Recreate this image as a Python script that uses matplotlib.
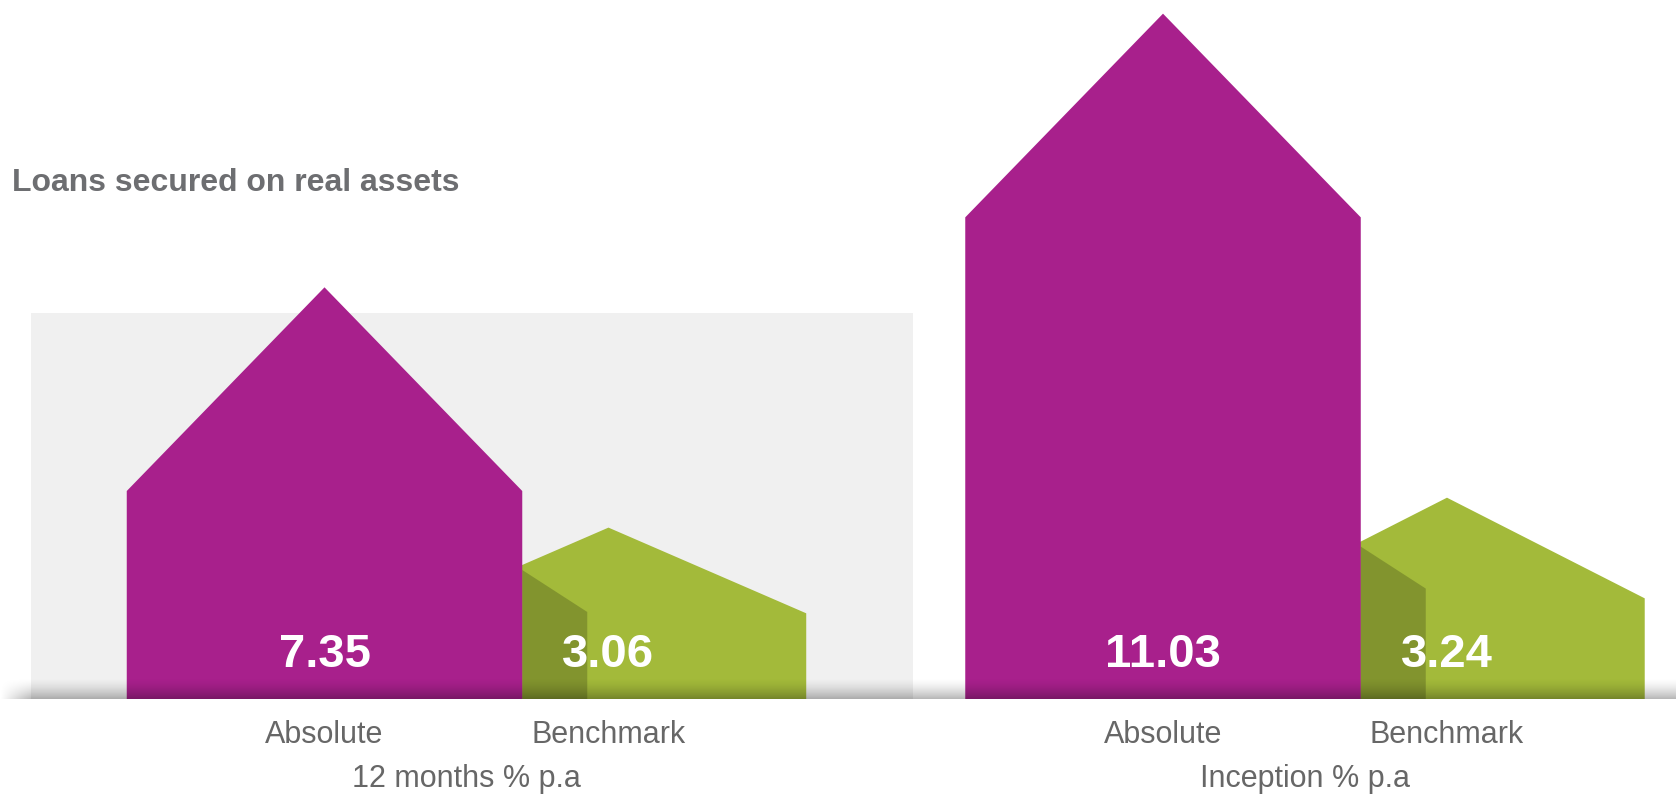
import numpy as np
import matplotlib.pyplot as plt
from matplotlib.patches import Polygon, Rectangle

# values
groups = ["12 months % p.a", "Inception % p.a"]
series = ["Absolute", "Benchmark"]
absolute = [7.35, 11.03]
benchmark = [3.06, 3.24]
title = "Loans secured on real assets"

PURPLE = "#A8208C"
GREEN = "#A3BA3A"
GREY_TXT = "#676767"

W, H = 1676, 802
BASE = 699          # baseline, px from top
ytops = [12.48, 11.25]   # each panel gets its own height scale
width = 1.0
bench_off = 0.718   # benchmark house tucks behind the absolute one
xlim = (-0.8205, 1.2996)

fig = plt.figure(figsize=(W / 100, H / 100), dpi=100)
fig.patch.set_facecolor("white")

# background layer (pixel coordinates)
bg = fig.add_axes([0, 0, 1, 1], zorder=0)
bg.set_xlim(0, W)
bg.set_ylim(H, 0)
bg.axis("off")
bg.add_patch(Rectangle((31, 313), 882, BASE - 313, color="#f0f0f0", lw=0))
bg.text(12, 191, title, fontsize=23, fontweight="bold", color="#6d6e71",
        family="Liberation Sans", ha="left", va="baseline")


def px_scale(ax):
    x0, x1 = ax.get_xlim()
    y0, y1 = ax.get_ylim()
    return ax.bbox.width / (x1 - x0), ax.bbox.height / (y1 - y0)


def house(ax, xc, value, color, z):
    half = width / 2
    sx, sy = px_scale(ax)
    # roof pitch capped at about 45 degrees
    rise = min(0.5 * value, 1.03 * half * sx / sy)
    pts = [(xc - half, 0), (xc - half, value - rise), (xc, value),
           (xc + half, value - rise), (xc + half, 0)]
    poly = Polygon(pts, closed=True, fc=color, ec="none", zorder=z)
    ax.add_patch(poly)
    return poly, rise


panel_w = 838.5 / W
for i, g in enumerate(groups):
    ax = fig.add_axes([i * panel_w, (H - BASE) / H, panel_w, BASE / H], zorder=1)
    ax.set_xlim(*xlim)
    ax.set_ylim(0, ytops[i])
    ax.axis("off")
    ax.patch.set_alpha(0)

    xa, xb = 0.0, bench_off
    va, vb = absolute[i], benchmark[i]
    house(ax, xa, va, PURPLE, 3)
    gpoly, grise = house(ax, xb, vb, GREEN, 2)

    # shadow cast by the absolute house onto the benchmark one
    sx, sy = px_scale(ax)
    xe = xa + width / 2
    yr = (vb - grise) + grise * (xe - (xb - width / 2)) / (width / 2)
    ys = yr - 5 / sy
    dw = 65 / sx
    sh = Polygon([(xe, ys), (xe + dw, ys - 42 / sy), (xe + dw, 0), (xe, 0)],
                 closed=True, fc="black", alpha=0.2, ec="none", zorder=2.5)
    ax.add_patch(sh)
    sh.set_clip_path(gpoly)

    for x, v, name in [(xa, va, series[0]), (xb, vb, series[1])]:
        ax.annotate(f"{v:.2f}", xy=(x, 0), xytext=(0, 23), textcoords="offset points",
                    ha="center", va="baseline", color="white", fontsize=34,
                    fontweight="bold", family="Liberation Sans", zorder=6,
                    annotation_clip=False)
        ax.annotate(name, xy=(x, 0), xytext=(0, -31.7), textcoords="offset points",
                    ha="center", va="baseline", color=GREY_TXT, fontsize=22,
                    family="Liberation Sans", annotation_clip=False)
    ax.annotate(g, xy=((xa + xb) / 2, 0), xytext=(0, -63.4), textcoords="offset points",
                ha="center", va="baseline", color=GREY_TXT, fontsize=22,
                family="Liberation Sans", annotation_clip=False)

# soft floor shadow along the baseline
top = BASE - 22
grad_h = 22
ramp = np.linspace(0, 1, grad_h) ** 1.6 * 0.28
fade = np.clip(np.arange(W) / 31.0, 0, 1)
alpha = ramp[:, None] * fade[None, :]
rgba = np.zeros((grad_h, W, 4))
rgba[..., 3] = alpha
ov = fig.add_axes([0, 0, 1, 1], zorder=4)
ov.axis("off")
ov.patch.set_alpha(0)
ov.imshow(rgba, extent=(0, W, BASE, top), aspect="auto", interpolation="bilinear")
ov.set_xlim(0, W)
ov.set_ylim(H, 0)

fig.savefig("out.png", dpi=100)
